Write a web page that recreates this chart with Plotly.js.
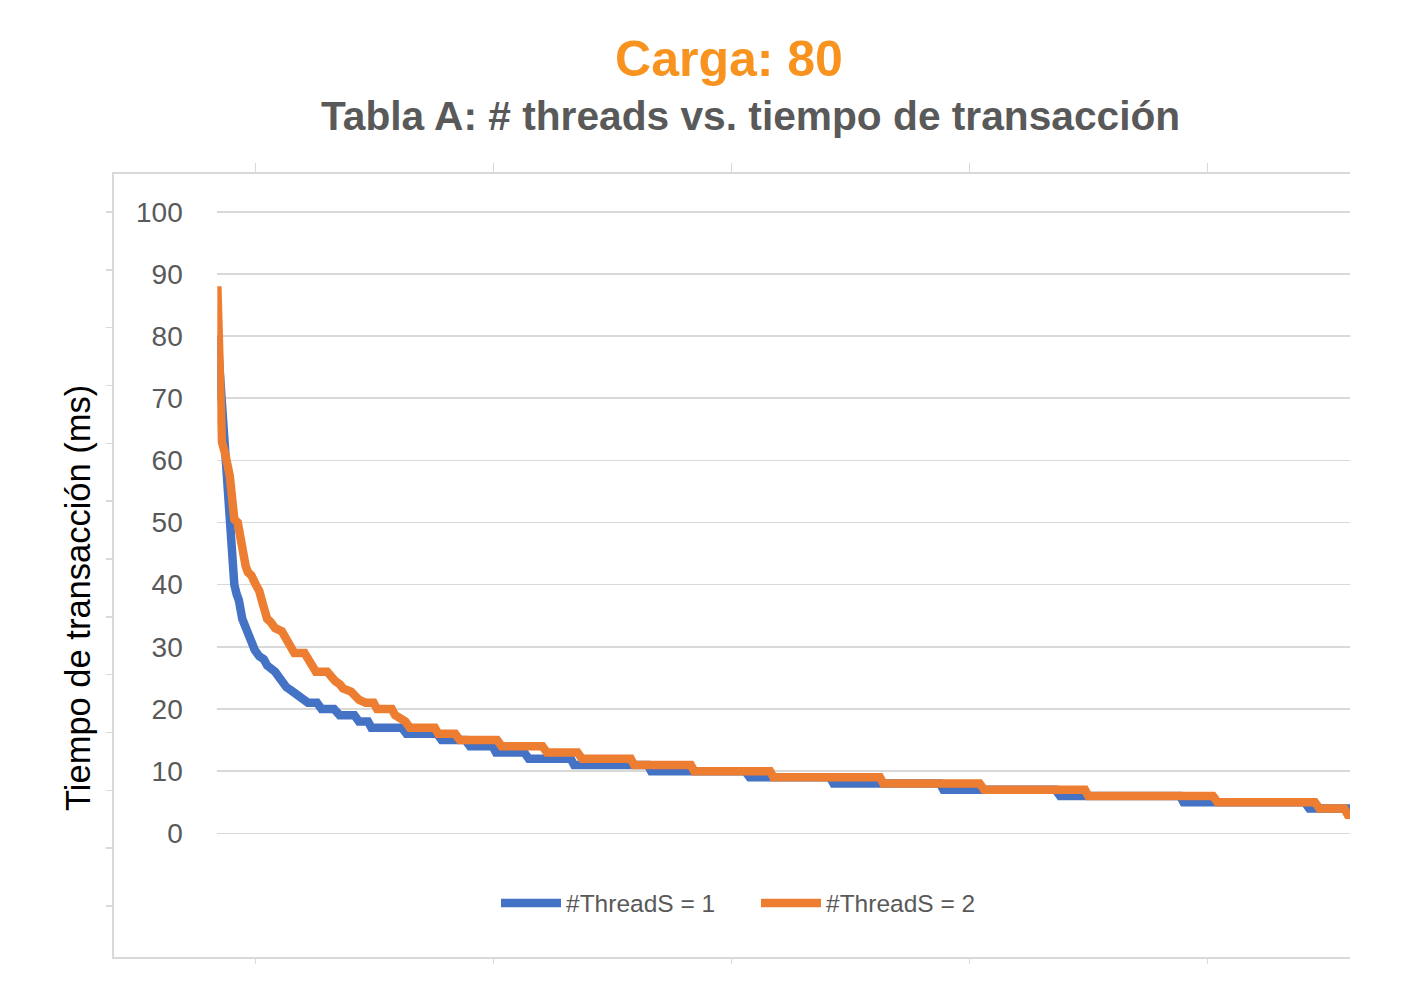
<!DOCTYPE html>
<html>
<head>
<meta charset="utf-8">
<script src="https://cdn.plot.ly/plotly-3.0.1.min.js"></script>
<style>
  html, body { margin: 0; padding: 0; background: #ffffff; }
  #chart { width: 1405px; height: 990px; }
</style>
</head>
<body>
<div id="chart"></div>
<script>
// ---- Data ----
const chartTitle = "Carga: 80";
const chartSubtitle = "Tabla A: # threads vs. tiempo de transacción";
const yTitle = "Tiempo de transacción (ms)";
const seriesNames = ["#ThreadS = 1", "#ThreadS = 2"];
const yTickValues = [0, 10, 20, 30, 40, 50, 60, 70, 80, 90, 100];

// Transaction rank (sorted from slowest to fastest) and time in ms
const rank1 = [0, 3, 5, 7, 8, 9, 11, 13, 15, 17, 19, 22, 25, 28, 33, 37, 41, 44, 48, 51, 55, 58, 61, 65, 69, 72, 77, 80, 88, 92, 103, 108, 121, 125, 133, 136, 163, 167, 194, 198, 219, 223, 243, 246, 271, 275, 312, 315, 380, 383, 466, 470, 541, 544, 638, 641, 740, 744, 850, 853, 960, 964, 1000];
const time1 = [80, 72, 66, 63, 59, 54, 49, 44, 40, 38.5, 37.5, 34.5, 33, 31.5, 29.5, 28.5, 28, 27, 26.5, 26, 25, 24, 23.5, 23, 22.5, 22, 21.5, 21, 21, 20, 20, 19, 19, 18, 18, 17, 17, 16, 16, 15, 15, 14, 14, 13, 13, 12, 12, 11, 11, 10, 10, 9, 9, 8, 8, 7, 7, 6, 6, 5, 5, 4, 4];

const rank2 = [0, 1, 2, 3, 4, 7, 9, 11, 13, 15, 18, 19, 22, 25, 27, 30, 34, 37, 40, 42, 44, 47, 51, 57, 60, 64, 66, 68, 77, 80, 84, 87, 97, 101, 104, 108, 111, 118, 122, 125, 131, 138, 141, 154, 157, 163, 166, 170, 192, 195, 210, 214, 247, 251, 287, 291, 318, 322, 365, 368, 418, 421, 488, 491, 585, 588, 673, 677, 766, 769, 879, 883, 969, 973, 995, 998, 1000];
const time2 = [88, 80, 71, 66, 63, 61, 59.5, 57.5, 54, 50.5, 50, 48.8, 45.6, 43, 42, 41.5, 40, 39, 37, 36, 34.5, 34, 33, 32.5, 31.5, 30.5, 29.5, 29, 29, 28, 27, 26, 26, 25, 24.5, 24, 23.3, 22.8, 22, 21.5, 21, 21, 20, 20, 19, 18.5, 18, 17, 17, 16, 16, 15, 15, 14, 14, 13, 13, 12, 12, 11, 11, 10, 10, 9, 9, 8, 8, 7, 7, 6, 6, 5, 5, 4, 4, 3, 3];

// ---- Styling ----
const gridGrey = "#d9d9d9";
const textGrey = "#595959";
const blue = "#4472C4";
const orange = "#ED7D31";
const font = "Liberation Sans, Arial, sans-serif";

const traces = [
  {
    x: rank1, y: time1, name: seriesNames[0], type: "scatter", mode: "lines",
    line: { color: blue, width: 8.5 }, xaxis: "x", yaxis: "y"
  },
  {
    x: rank2, y: time2, name: seriesNames[1], type: "scatter", mode: "lines",
    line: { color: orange, width: 8.5 }, xaxis: "x", yaxis: "y"
  },
  // empty helper traces for the outer frame axes
  { x: [], y: [], xaxis: "x2", yaxis: "y2", showlegend: false, hoverinfo: "skip", type: "scatter" },
  { x: [], y: [], xaxis: "x3", yaxis: "y2", showlegend: false, hoverinfo: "skip", type: "scatter" }
];

const layout = {
  width: 1405, height: 990,
  paper_bgcolor: "#ffffff", plot_bgcolor: "rgba(0,0,0,0)",
  margin: { l: 114, r: 55, t: 174, b: 33, pad: 0 },
  font: { family: font, color: textGrey },
  hovermode: false,
  title: {
    text: chartTitle,
    font: { family: font, size: 50, color: "#F7931E", weight: "bold" },
    xref: "container", yref: "container",
    x: 729 / 1405, xanchor: "center",
    y: 1 - 58 / 990, yanchor: "middle"
  },
  xaxis: {
    domain: [0.0836, 1], range: [0, 1000], autorange: false,
    showgrid: false, zeroline: false, showticklabels: false, ticks: "", showline: false,
    anchor: "y"
  },
  yaxis: {
    domain: [0, 1], range: [-19.9, 106.07], autorange: false,
    tickmode: "array", tickvals: yTickValues, ticktext: yTickValues.map(String),
    showgrid: true, gridcolor: gridGrey, gridwidth: 1.6,
    zeroline: false, showline: false,
    ticks: "outside", ticklen: 28, tickcolor: "rgba(0,0,0,0)",
    tickfont: { family: font, size: 28, color: textGrey },
    anchor: "x"
  },
  // outer frame: bottom line with short ticks
  xaxis2: {
    domain: [0, 1], range: [0, 5.195], autorange: false, anchor: "y2", side: "bottom",
    tickmode: "linear", tick0: 0.5956, dtick: 1,
    ticks: "outside", ticklen: 5, tickwidth: 1.5, tickcolor: gridGrey,
    showline: true, linecolor: gridGrey, linewidth: 1.8,
    showgrid: false, zeroline: false, showticklabels: false
  },
  // outer frame: top line with ticks
  xaxis3: {
    domain: [0, 1], range: [0, 5.195], autorange: false, anchor: "y2", side: "top", overlaying: "x2",
    tickmode: "linear", tick0: 0.5956, dtick: 1,
    ticks: "outside", ticklen: 9, tickwidth: 1.5, tickcolor: gridGrey,
    showline: true, linecolor: gridGrey, linewidth: 1.8,
    showgrid: false, zeroline: false, showticklabels: false
  },
  // outer frame: left line with ticks
  yaxis2: {
    domain: [0, 1], range: [0, 13.54], autorange: false, anchor: "x2", side: "left",
    tickmode: "linear", tick0: 0.882, dtick: 1,
    ticks: "outside", ticklen: 6, tickwidth: 1.5, tickcolor: gridGrey,
    showline: true, linecolor: gridGrey, linewidth: 1.8,
    showgrid: false, zeroline: false, showticklabels: false
  },
  showlegend: true,
  legend: {
    orientation: "h",
    x: (756 - 114) / 1236, xanchor: "center",
    y: (957 - 903) / 783, yanchor: "middle",
    font: { family: font, size: 24.5, color: textGrey },
    bgcolor: "rgba(0,0,0,0)",
    itemwidth: 60,
    entrywidth: 185, entrywidthmode: "pixels",
    traceorder: "normal"
  },
  annotations: [
    {
      text: chartSubtitle,
      xref: "paper", yref: "paper",
      x: (750 - 114) / 1236, y: (957 - 116) / 783,
      xanchor: "center", yanchor: "middle", showarrow: false,
      font: { family: font, size: 40.7, color: textGrey, weight: "bold" }
    },
    {
      text: yTitle,
      xref: "paper", yref: "paper",
      x: (78 - 114) / 1236, y: (957 - 598) / 783,
      xanchor: "center", yanchor: "middle", showarrow: false, textangle: -90,
      font: { family: font, size: 34.5, color: "#000000" }
    }
  ]
};

Plotly.newPlot("chart", traces, layout, { displayModeBar: false, staticPlot: true });
</script>
</body>
</html>
